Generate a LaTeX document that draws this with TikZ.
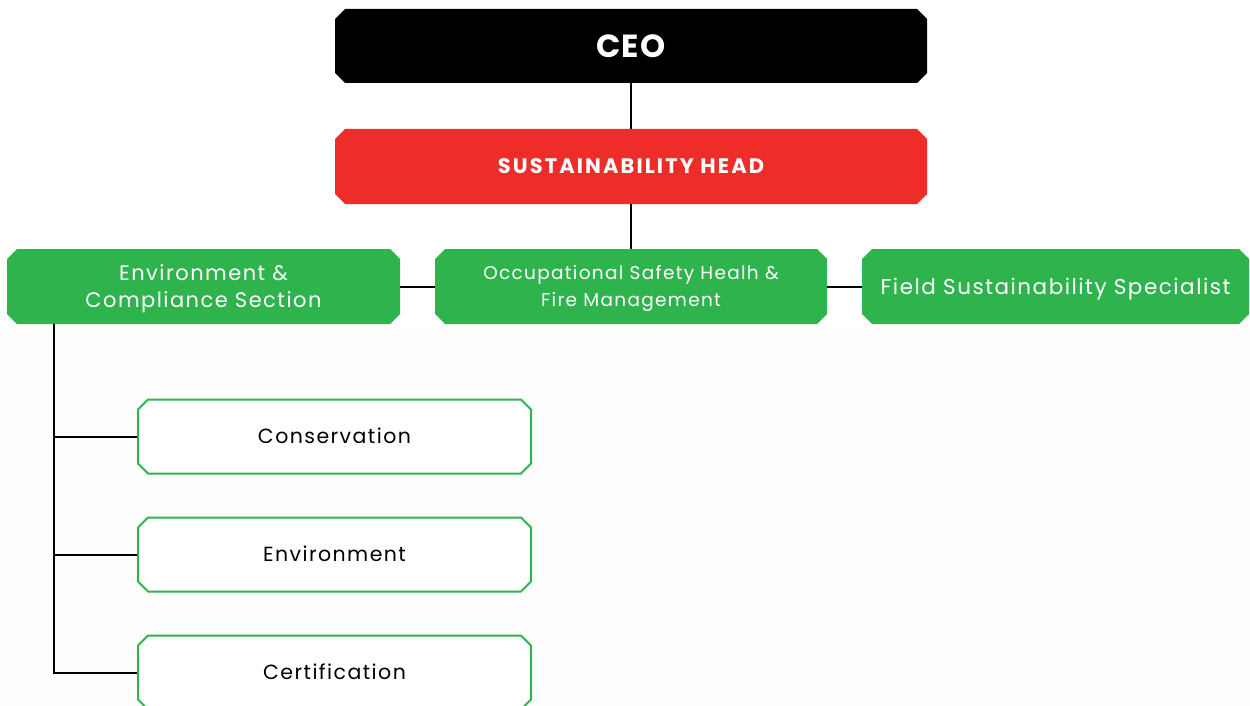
\documentclass[tikz,border=0pt]{standalone}
\usepackage{fontspec}
\setmainfont{Poppins}
\usetikzlibrary{shapes.misc}
\definecolor{ceoblack}{RGB}{0,0,0}
\definecolor{headred}{RGB}{238,44,42}
\definecolor{boxgreen}{RGB}{46,179,77}
\definecolor{lowbg}{RGB}{253,253,253}
\tikzset{
  chbox/.style={chamfered rectangle, chamfered rectangle xsep=5pt, chamfered rectangle ysep=5pt,
    inner sep=0pt, align=center},
  ceobox/.style={chbox, fill=ceoblack, text=white, minimum width=592pt, minimum height=74pt,
    font=\fontsize{32}{36}\selectfont\bfseries\addfontfeatures{LetterSpace=3},
    text height=22.3pt, text depth=0pt},
  headbox/.style={chbox, fill=headred, text=white, minimum width=592pt, minimum height=75pt,
    font=\fontsize{21}{24}\selectfont\bfseries\addfontfeatures{LetterSpace=10},
    text height=14.7pt, text depth=0pt},
  greenbox/.style={chbox, fill=boxgreen, text=white, minimum width=392pt, minimum height=75pt},
  subbox/.style={chbox, fill=white, draw=boxgreen, line width=2pt, text=black,
    minimum width=393pt, minimum height=74pt,
    font=\fontsize{20.5}{24}\selectfont\addfontfeatures{LetterSpace=7},
    text height=14.3pt, text depth=0pt},
  link/.style={draw=black, line width=2pt}
}
\begin{document}
\begin{tikzpicture}[x=1pt,y=-1pt]
\useasboundingbox (0,0) rectangle (1250,706);
\clip (0,0) rectangle (1250,706);
\fill[white] (0,0) rectangle (1250,706);
\fill[lowbg] (0,326) rectangle (1250,706);

\node[ceobox] (ceo) at (631,46) {CEO};
\node[headbox] (head) at (631,166.5) {SUSTAINABILITY HEAD};
\node[greenbox, minimum width=393pt,
  font=\fontsize{21}{27}\selectfont\addfontfeatures{LetterSpace=7},
  text height=41.7pt, text depth=0pt] (env) at (203.5,286.5) {Environment \&\\Compliance Section};
\node[greenbox,
  font=\fontsize{18.5}{27}\selectfont\addfontfeatures{LetterSpace=7},
  text height=39.9pt, text depth=0pt] (occ) at (631,286.5) {Occupational Safety Healh \&\\Fire Management};
\node[greenbox, minimum width=387pt,
  font=\fontsize{21.5}{24}\selectfont\addfontfeatures{LetterSpace=7},
  text height=15pt, text depth=0pt] (field) at (1055.5,286.5) {Field Sustainability Specialist};

\node[subbox] (cons) at (334.5,436.5) {Conservation};
\node[subbox] (envi) at (334.5,554.5) {Environment};
\node[subbox] (cert) at (334.5,672.5) {Certification};

\draw[link] (ceo.south) -- (head.north);
\draw[link] (head.south) -- (occ.north);
\draw[link] (env.east) -- (occ.west);
\draw[link] (occ.east) -- (field.east -| field.west);

\coordinate (trunk) at (54,324);
\draw[link] (trunk) -- (trunk |- cert.west) -- (cert.west);
\draw[link] (trunk |- cons.west) -- (cons.west);
\draw[link] (trunk |- envi.west) -- (envi.west);
\end{tikzpicture}
\end{document}
